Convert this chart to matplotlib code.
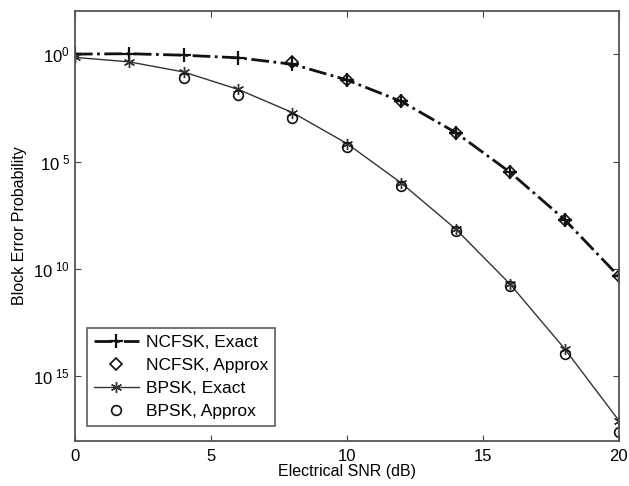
import numpy as np
import matplotlib.pyplot as plt
from matplotlib.ticker import FixedLocator, NullLocator

plt.rcParams['font.family'] = ['Liberation Sans', 'DejaVu Sans']
plt.rcParams['mathtext.default'] = 'regular'

# Electrical SNR (dB)
snr = [0, 2, 4, 6, 8, 10, 12, 14, 16, 18, 20]
# log10 of block error probability
ncfsk_exact = [0.0, 0.02, -0.05, -0.17, -0.47, -1.2, -2.2, -3.65, -5.5, -7.7, -10.35]
ncfsk_approx_snr = [8, 10, 12, 14, 16, 18, 20]
ncfsk_approx = [-0.38, -1.2, -2.2, -3.65, -5.5, -7.7, -10.35]
bpsk_exact = [-0.15, -0.36, -0.83, -1.64, -2.72, -4.16, -6.0, -8.14, -10.71, -13.71, -17.06]
bpsk_approx_snr = [4, 6, 8, 10, 12, 14, 16, 18, 20]
bpsk_approx = [-1.12, -1.9, -2.96, -4.31, -6.12, -8.21, -10.79, -13.94, -17.6]

ytick_pos = [1, 1e-5, 1e-10, 1e-15]
ytick_labels = ['$10^{0}$', '$10^{\\ 5}$', '$10^{\\ 10}$', '$10^{\\ 15}$']
xtick_pos = [0, 5, 10, 15, 20]

fig = plt.figure(figsize=(6.29, 4.86), dpi=100)
ax = fig.add_axes([0.119, 0.093, 0.865, 0.884])

ax.semilogy(snr, 10.0 ** np.array(ncfsk_exact), linestyle='-.', color='#111111',
            linewidth=2.0, marker='+', markersize=10, markeredgewidth=1.6,
            label='NCFSK, Exact')
ax.semilogy(ncfsk_approx_snr, 10.0 ** np.array(ncfsk_approx), linestyle='none',
            marker='D', markersize=6, markerfacecolor='none',
            markeredgecolor='#111111', markeredgewidth=1.2, label='NCFSK, Approx')
ax.semilogy(snr, 10.0 ** np.array(bpsk_exact), linestyle='-', color='#333333',
            linewidth=1.0, marker=(6, 2, 0), markersize=8, markeredgewidth=1.0,
            label='BPSK, Exact')
ax.semilogy(bpsk_approx_snr, 10.0 ** np.array(bpsk_approx), linestyle='none',
            marker='o', markersize=7, markerfacecolor='none',
            markeredgecolor='#111111', markeredgewidth=1.2, label='BPSK, Approx')

ax.set_xlim(0, 20)
ax.set_ylim(1e-18, 1e2)
ax.set_xticks(xtick_pos)
ax.yaxis.set_major_locator(FixedLocator(ytick_pos))
ax.yaxis.set_minor_locator(NullLocator())
ax.set_yticklabels(ytick_labels)
ax.tick_params(direction='in', top=True, right=True, labelsize=12, length=4,
               color='#444444')
ax.tick_params(axis='x', pad=6)
for s in ax.spines.values():
    s.set_color('#555555')
    s.set_linewidth(1.3)

ax.set_xlabel('Electrical SNR (dB)', fontsize=11.5, labelpad=0)
ax.set_ylabel('Block Error Probability', fontsize=11.5, labelpad=4)

leg = ax.legend(loc='upper left', bbox_to_anchor=(0.022, 0.263), fontsize=12.5,
                frameon=True, fancybox=False, edgecolor='#333333',
                handlelength=2.6, borderpad=0.4, labelspacing=0.45,
                handletextpad=0.4, borderaxespad=0)
leg.get_frame().set_linewidth(1.2)

fig.savefig('out.png', dpi=100)
